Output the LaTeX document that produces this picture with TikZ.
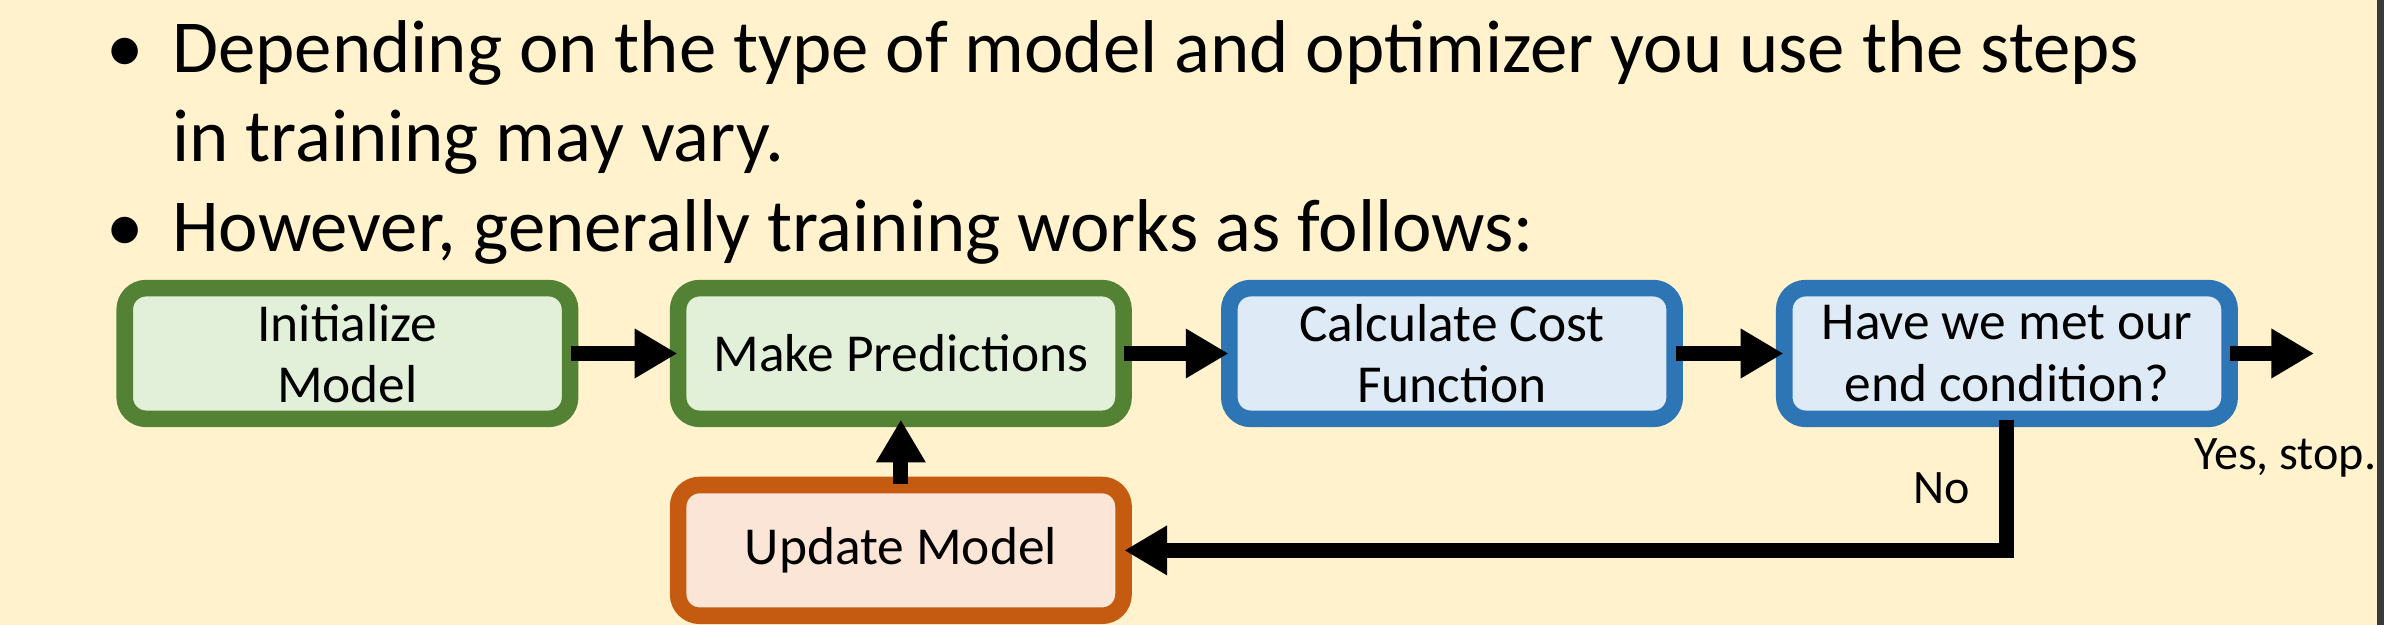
\documentclass[tikz,border=0pt]{standalone}
\usepackage{fontspec}
\setmainfont{Carlito}
\usetikzlibrary{arrows.meta,positioning}
\definecolor{bgcream}{HTML}{FFF2CC}
\definecolor{edgegray}{HTML}{3A3A3A}
\definecolor{greenline}{HTML}{548235}
\definecolor{greenfill}{HTML}{E2F0D9}
\definecolor{blueline}{HTML}{2E75B6}
\definecolor{bluefill}{HTML}{DEEBF7}
\definecolor{orangeline}{HTML}{C55A11}
\definecolor{orangefill}{HTML}{FBE5D6}
\tikzset{
	stepbox/.style={draw, rounded corners=8pt, line width=6.2pt, minimum width=5.86cm, minimum height=1.72cm, inner sep=0pt, align=center, font=\fontsize{20}{23}\selectfont},
	flow/.style={line width=5.6pt, shorten <=-2.8pt, shorten >=-2.8pt, -{Triangle[width=17.5pt,length=16pt]}},
	bullettext/.style={anchor=base west, inner sep=0pt, font=\fontsize{28}{34}\selectfont},
	smalllabel/.style={inner sep=0pt, font=\fontsize{18}{21}\selectfont}
}
\begin{document}
\begin{tikzpicture}[x=0.02cm, y=-0.02cm]
	% background
	\fill[bgcream] (0,0) rectangle (1568,411);
	\fill[edgegray] (1563.5,0) rectangle (1568,411);
	\useasboundingbox (0,0) rectangle (1568,411);
	% bullet points
	\node[bullettext, anchor=base] (dotA) at (82,48) {•};
	\node[bullettext] (lineA) at (113,48) {Depending on the type of model and optimizer you use the steps};
	\node[bullettext] (lineB) at (113,106.5) {in training may vary.};
	\node[bullettext, anchor=base] (dotB) at (82,165.5) {•};
	\node[bullettext] (lineC) at (113,165.5) {However, generally training works as follows:};
	% training steps
	\node[stepbox, draw=greenline, fill=greenfill] (init) at (228.5,232.5) {Initialize\\Model};
	\node[stepbox, draw=greenline, fill=greenfill] (predict) at (592.5,232.5) {Make Predictions};
	\node[stepbox, draw=blueline, fill=bluefill] (cost) at (955,232.5) {Calculate Cost\\Function};
	\node[stepbox, draw=blueline, fill=bluefill] (check) at (1320,232.5) {Have we met our\\end condition?};
	\node[stepbox, draw=orangeline, fill=orangefill] (update) at (592.5,362) {Update Model};
	\coordinate (stop) at (1522,232.5);
	% connectors
	\draw[flow] (init) -- (predict);
	\draw[flow] (predict) -- (cost);
	\draw[flow] (cost) -- (check);
	\draw[flow, shorten >=0pt] (check) -- (stop);
	\draw[flow] (update) -- (predict);
	\draw[flow] (check.south) |- (update.east);
	% branch labels
	\node[smalllabel] (nolabel) at (1277,321) {No};
	\node[smalllabel] (yeslabel) at (1503,301) {Yes, stop.};
\end{tikzpicture}
\end{document}
